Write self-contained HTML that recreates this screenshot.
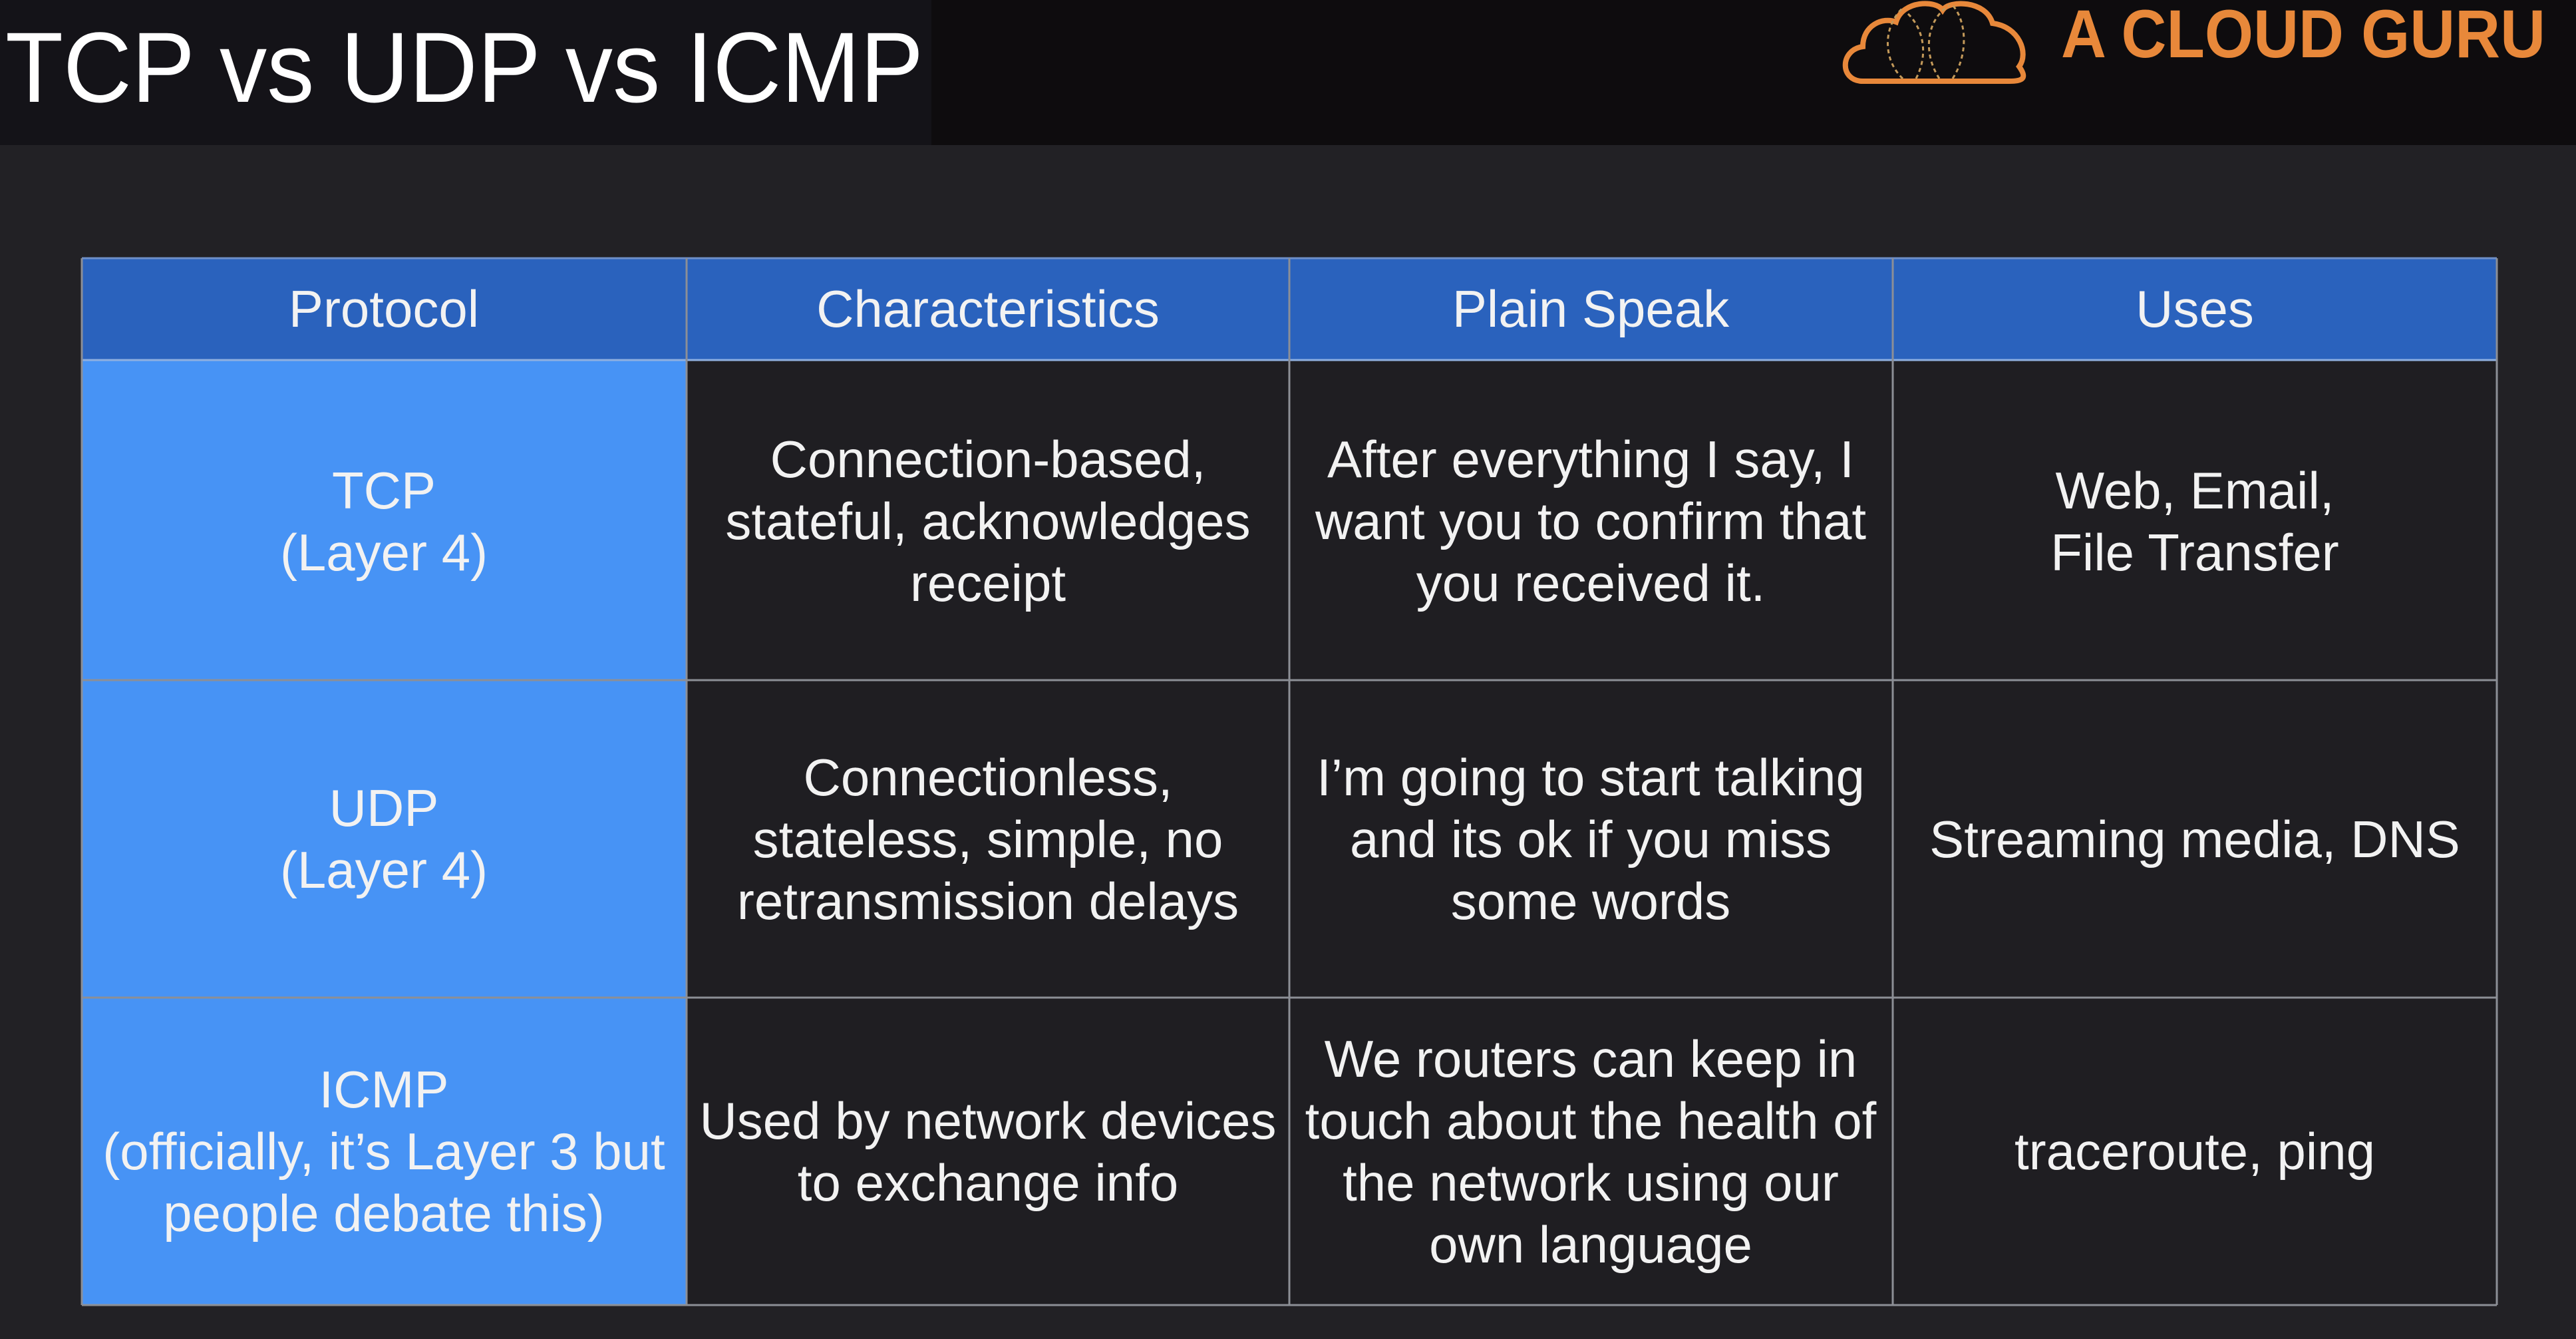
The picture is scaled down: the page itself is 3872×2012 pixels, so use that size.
<!DOCTYPE html>
<html><head><meta charset="utf-8"><style>
html,body{margin:0;padding:0;background:#222125;}
body{width:3872px;height:2012px;overflow:hidden;position:relative;font-family:"Liberation Sans",sans-serif;}
</style></head><body>
<svg width="3872" height="2012" viewBox="0 0 3872 2012" xmlns="http://www.w3.org/2000/svg" style="position:absolute;left:0;top:0">
<rect x="0" y="0" width="3872" height="2012" fill="#222125"/>
<rect x="0" y="0" width="3872" height="218" fill="#0e0c0e"/>
<rect x="0" y="0" width="1400" height="218" fill="#141318"/>
<text x="8" y="153" font-family="Liberation Sans, sans-serif" font-size="150" fill="#ffffff" textLength="1380" lengthAdjust="spacingAndGlyphs">TCP vs UDP vs ICMP</text>
<!-- logo -->
<g fill="none" stroke="#e8883a" stroke-width="8">
<path d="M2800,122 C2765,122 2765,75 2800,70 C2800,38 2830,25 2850,33 C2860,0 2910,0 2920,15 C2930,0 2985,0 2995,35 C3035,40 3050,80 3035,100 C3048,118 3040,122 3020,122 Z"/>
</g>
<g fill="none" stroke="#c49a5a" stroke-width="3" stroke-dasharray="6,5">
<path d="M2860,118 C2830,90 2830,40 2860,12"/><path d="M2880,118 C2900,80 2890,40 2865,18"/>
<path d="M2915,118 C2890,80 2895,30 2930,8"/><path d="M2935,118 C2960,80 2955,30 2935,8"/>
</g>
<text x="3098" y="86" font-family="Liberation Sans, sans-serif" font-weight="bold" font-size="102" fill="#e8883a" textLength="728" lengthAdjust="spacingAndGlyphs">A CLOUD GURU</text>
<!-- table backgrounds -->
<rect x="123" y="388" width="3630" height="153" fill="#2a62bd"/>
<rect x="123" y="541" width="909" height="1420" fill="#4793f5"/>
<rect x="1032" y="541" width="2721" height="1420" fill="#1f1e22"/>
<g stroke="#8c8f96" stroke-width="3">
<line x1="123" y1="388" x2="3753" y2="388" stroke="#6f8fc8"/>
<line x1="123" y1="541" x2="3753" y2="541" stroke="#8fb0e0"/>
<line x1="123" y1="1022" x2="3753" y2="1022"/>
<line x1="123" y1="1499" x2="3753" y2="1499"/>
<line x1="123" y1="1961" x2="3753" y2="1961"/>
<line x1="123" y1="388" x2="123" y2="1961"/>
<line x1="1032" y1="388" x2="1032" y2="1961"/>
<line x1="1938" y1="388" x2="1938" y2="1961"/>
<line x1="2845" y1="388" x2="2845" y2="1961"/>
<line x1="3753" y1="388" x2="3753" y2="1961"/>
</g>
<g font-family="Liberation Sans, sans-serif" font-size="78" fill="#f2f2f2" text-anchor="middle">
<text x="577" y="491">Protocol</text>
<text x="1485" y="491">Characteristics</text>
<text x="2391" y="491">Plain Speak</text>
<text x="3299" y="491">Uses</text>

<text x="577" y="764">TCP</text>
<text x="577" y="857">(Layer 4)</text>
<text x="1485" y="717">Connection-based,</text>
<text x="1485" y="810">stateful, acknowledges</text>
<text x="1485" y="903">receipt</text>
<text x="2391" y="717">After everything I say, I</text>
<text x="2391" y="810">want you to confirm that</text>
<text x="2391" y="903">you received it.</text>
<text x="3299" y="764">Web, Email,</text>
<text x="3299" y="857">File Transfer</text>

<text x="577" y="1241">UDP</text>
<text x="577" y="1334">(Layer 4)</text>
<text x="1485" y="1195">Connectionless,</text>
<text x="1485" y="1288">stateless, simple, no</text>
<text x="1485" y="1381">retransmission delays</text>
<text x="2391" y="1195">I’m going to start talking</text>
<text x="2391" y="1288">and its ok if you miss</text>
<text x="2391" y="1381">some words</text>
<text x="3299" y="1288">Streaming media, DNS</text>

<text x="577" y="1664">ICMP</text>
<text x="577" y="1757">(officially, it’s Layer 3 but</text>
<text x="577" y="1850">people debate this)</text>
<text x="1485" y="1711">Used by network devices</text>
<text x="1485" y="1804">to exchange info</text>
<text x="2391" y="1618">We routers can keep in</text>
<text x="2391" y="1711">touch about the health of</text>
<text x="2391" y="1804">the network using our</text>
<text x="2391" y="1897">own language</text>
<text x="3299" y="1757">traceroute, ping</text>
</g>
</svg>
</body></html>
